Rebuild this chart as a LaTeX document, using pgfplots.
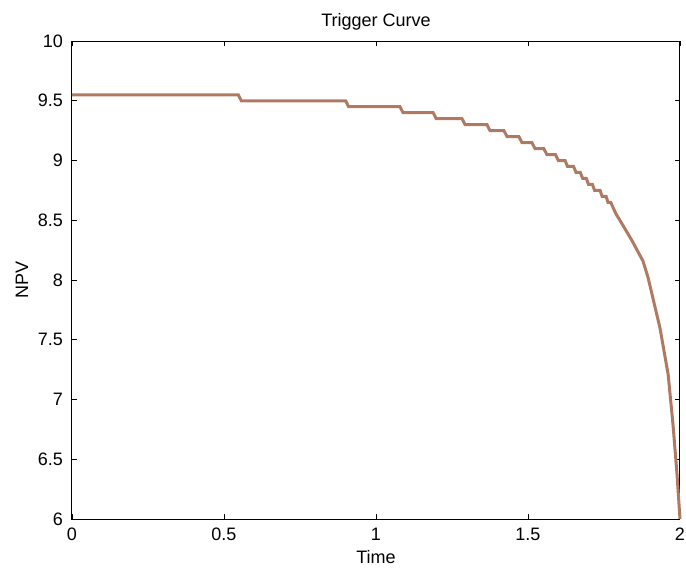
\documentclass[border=0pt]{standalone}
\usepackage{fontspec}
\setmainfont{Liberation Sans}
\usepackage{pgfplots}
\pgfplotsset{compat=1.18}
\definecolor{curve}{RGB}{176,122,98}

\begin{document}
\begin{tikzpicture}
\path[use as bounding box] (-36pt,-25.5pt) rectangle (307pt,259.5pt);
\begin{axis}[
  at={(0,0)}, anchor=south west,
  scale only axis,
  width=304pt, height=239pt,
  xmin=0, xmax=2, ymin=6, ymax=10,
  xtick={0,0.5,1,1.5,2},
  ytick={6,6.5,...,10},
  tick align=inside,
  major tick length=2.5pt,
  axis line style={line width=0.5pt},
  tick style={line width=0.4pt, black},
  font=\fontsize{9}{11}\selectfont,
  /pgf/number format/assume math mode=true,
  yticklabel style={/pgf/number format/fixed, xshift=-1pt},
  xticklabel style={/pgf/number format/fixed, yshift=-1pt},
  every axis title shift=0pt,
  title={Trigger Curve},
  title style={at={(axis description cs:0.5,1)}, anchor=base, yshift=7.5pt},
  xlabel={Time},
  ylabel={NPV},
  xlabel style={at={(axis description cs:0.5,0)}, anchor=base, yshift=-22pt},
  ylabel style={at={(axis description cs:0,0.5)}, anchor=center, rotate=0, yshift=25pt},
  clip=false,
]
\addplot[curve, line width=1.5pt] coordinates {
(0,9.55) (0.547,9.55) (0.557,9.50) (0.900,9.50) (0.910,9.45) (1.079,9.45)
(1.089,9.40) (1.188,9.40) (1.198,9.35) (1.283,9.35) (1.293,9.30) (1.365,9.30)
(1.375,9.25) (1.421,9.25) (1.431,9.20) (1.470,9.20) (1.480,9.15) (1.513,9.15)
(1.523,9.10) (1.552,9.10) (1.562,9.05) (1.590,9.05) (1.600,9.00) (1.622,9.00)
(1.630,8.95) (1.650,8.95) (1.658,8.90) (1.672,8.90) (1.680,8.85) (1.692,8.85)
(1.699,8.80) (1.712,8.80) (1.719,8.75) (1.737,8.75) (1.744,8.70) (1.757,8.70)
(1.763,8.65) (1.772,8.65) (1.790,8.55) (1.800,8.51) (1.842,8.33) (1.878,8.16)
(1.895,8.02) (1.934,7.60) (1.961,7.21) (1.977,6.79) (1.990,6.38) (2.000,6.00)
};
\end{axis}
\end{tikzpicture}
\end{document}
